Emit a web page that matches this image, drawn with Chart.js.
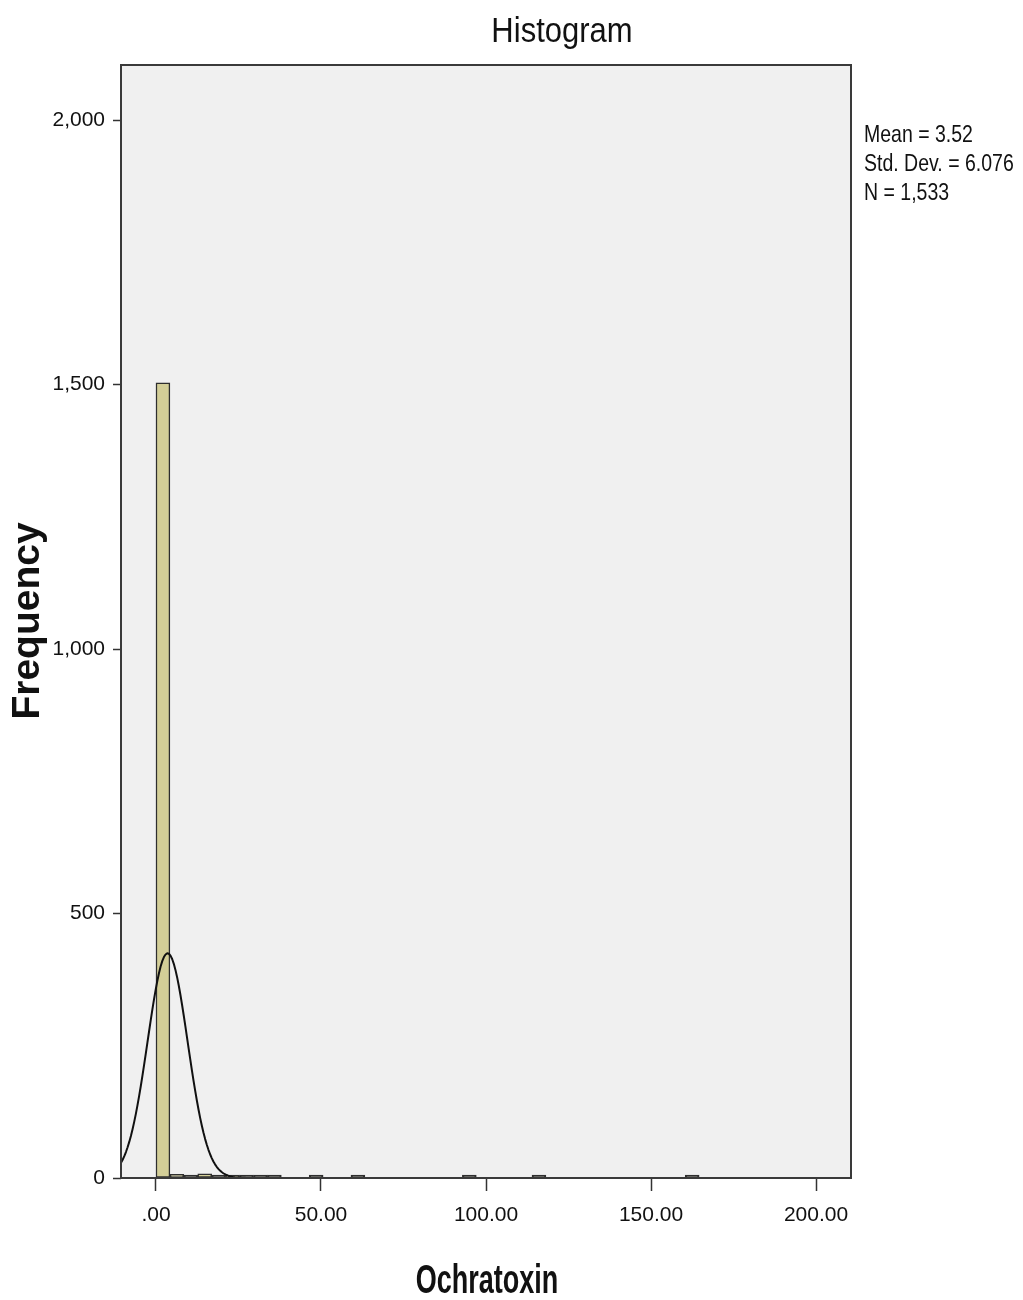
<!DOCTYPE html>
<html>
<head>
<meta charset="utf-8">
<title>Histogram</title>
<script src="https://cdn.jsdelivr.net/npm/chart.js@4.4.1/dist/chart.umd.min.js"></script>
<style>
    body { margin: 0; background: #ffffff; }
    #wrap { position: relative; width: 1023px; height: 1300px; }
</style>
</head>
<body>
<div id="wrap"><canvas id="histChart"></canvas></div>
<script>
const binWidth = 4.22;
const binIndex = [0, 1, 2, 3, 4, 5, 6, 7, 8, 11, 14, 22, 27, 38];
const binCounts = [1503, 7, 2, 8, 2, 3, 1, 1, 1, 1, 1, 1, 1, 1];
const xTicks = [0, 50, 100, 150, 200];
const yTicks = [0, 500, 1000, 1500, 2000];
const xMin = -10.6;
const xMax = 210.6;
const yMax = 2104;

// Statistiques affichées à droite
const mean = 3.52;
const stdDev = 6.076;
const nCases = 1533;
const statLines = ['Mean = 3.52', 'Std. Dev. = 6.076', 'N = 1,533'];

const SANS = "'Liberation Sans', Arial, sans-serif";

/**
 * Courbe normale ajustée (moyenne, écart-type, effectif)
 */
function normalCurve() {
    const points = [];
    const scale = nCases * binWidth / (stdDev * Math.sqrt(2 * Math.PI));
    for (let i = 0; i <= 442; i++) {
        const x = xMin + i * 0.5;
        const z = (x - mean) / stdDev;
        points.push({ x: x, y: scale * Math.exp(-0.5 * z * z) });
    }
    return points;
}

/**
 * Texte étiré verticalement (police SPSS étroite)
 */
function stretchedText(ctx, text, x, y, font, sy) {
    ctx.save();
    ctx.translate(x, y);
    ctx.scale(1, sy);
    ctx.font = font;
    ctx.fillText(text, 0, 0);
    ctx.restore();
}

const decorPlugin = {
    id: 'decor',
    beforeDraw(chart) {
        const { ctx, chartArea: a } = chart;
        ctx.save();
        ctx.fillStyle = '#f0f0f0';
        ctx.fillRect(a.left, a.top, a.right - a.left, a.bottom - a.top);
        ctx.restore();
    },
    afterDraw(chart) {
        const { ctx, chartArea: a } = chart;
        ctx.save();
        ctx.strokeStyle = '#3a3a3a';
        ctx.lineWidth = 2;
        ctx.strokeRect(a.left, a.top, a.right - a.left, a.bottom - a.top);

        ctx.fillStyle = '#111111';
        ctx.textAlign = 'center';
        ctx.textBaseline = 'middle';

        // titre
        stretchedText(ctx, 'Histogram', 562, 32, '31px ' + SANS, 1.15);

        // titre axe x
        stretchedText(ctx, 'Ochratoxin', 487, 1282, 'bold 27px ' + SANS, 1.5);

        // titre axe y
        ctx.save();
        ctx.translate(28, 621);
        ctx.rotate(-Math.PI / 2);
        ctx.font = 'bold 39px ' + SANS;
        ctx.fillText('Frequency', 0, 0);
        ctx.restore();

        // statistiques
        ctx.textAlign = 'left';
        ctx.textBaseline = 'alphabetic';
        statLines.forEach((t, i) => stretchedText(ctx, t, 864, 142 + i * 29, '19.5px ' + SANS, 1.22));
        ctx.restore();
    }
};

const ctx = document.getElementById('histChart').getContext('2d');
new Chart(ctx, {
    type: 'bar',
    data: {
        datasets: [{
            type: 'bar',
            data: binIndex.map((b, i) => ({ x: (b + 0.5) * binWidth, y: binCounts[i] })),
            // les toutes petites barres ne montrent que leur contour sombre
            backgroundColor: (c) => (c.raw && c.raw.y <= 2 ? '#3a3a32' : '#d3ce97'),
            borderColor: '#2e2e2e',
            borderWidth: 1.5,
            borderSkipped: false,
            minBarLength: 3,
            barPercentage: 1.0,
            categoryPercentage: 1.0,
            order: 2
        }, {
            type: 'line',
            data: normalCurve(),
            borderColor: '#111111',
            borderWidth: 2,
            borderJoinStyle: 'round',
            pointRadius: 0,
            pointHoverRadius: 0,
            tension: 0,
            fill: false,
            order: 1
        }]
    },
    options: {
        responsive: true,
        maintainAspectRatio: false,
        animation: false,
        layout: {
            padding: { top: 65, right: 172, bottom: 0, left: 0 }
        },
        plugins: {
            legend: { display: false },
            tooltip: { enabled: false }
        },
        scales: {
            x: {
                type: 'linear',
                min: xMin,
                max: xMax,
                offset: false,
                grid: {
                    offset: false,
                    drawOnChartArea: false,
                    drawTicks: true,
                    tickLength: 13,
                    tickColor: '#333333',
                    tickWidth: 1.5
                },
                border: { display: false },
                ticks: {
                    color: '#111111',
                    padding: 12,
                    maxRotation: 0,
                    font: { family: SANS, size: 21 },
                    callback: function (v) {
                        return v === 0 ? '.00' : v.toFixed(2);
                    }
                },
                afterBuildTicks: function (scale) {
                    scale.ticks = xTicks.map(v => ({ value: v }));
                },
                afterFit: function (scale) {
                    scale.height = 122;
                }
            },
            y: {
                min: 0,
                max: yMax,
                grid: {
                    drawOnChartArea: false,
                    drawTicks: true,
                    tickLength: 8,
                    tickColor: '#333333',
                    tickWidth: 1.5
                },
                border: { display: false },
                ticks: {
                    color: '#111111',
                    padding: 8,
                    font: { family: SANS, size: 21 },
                    callback: function (v) {
                        return v.toLocaleString('en-US');
                    }
                },
                afterBuildTicks: function (scale) {
                    scale.ticks = yTicks.map(v => ({ value: v }));
                },
                afterFit: function (scale) {
                    scale.width = 121;
                }
            }
        }
    },
    plugins: [decorPlugin]
});
</script>
</body>
</html>
